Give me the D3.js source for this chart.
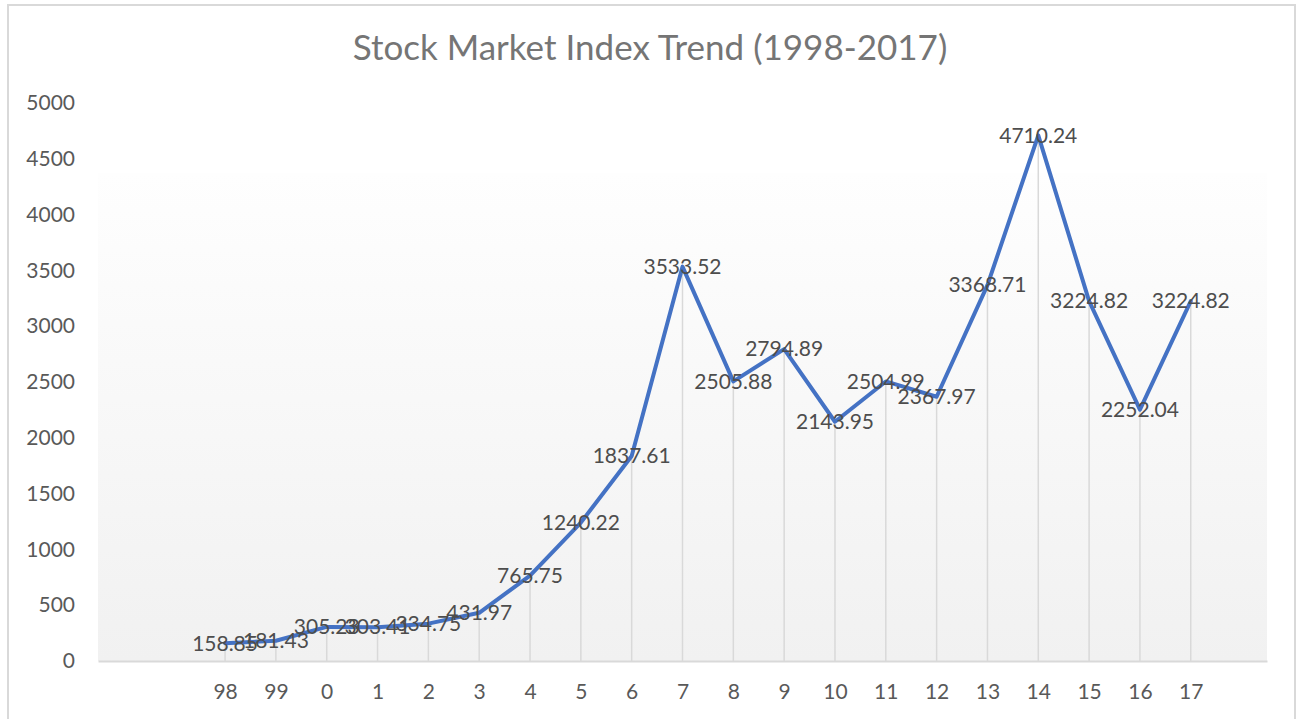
<!DOCTYPE html>
<html>
<head>
<meta charset="utf-8">
<script src="https://cdn.jsdelivr.net/npm/d3@7/dist/d3.min.js"></script>
<style>
    body { margin: 0; background: #fff; }
    text { font-family: Lato, "Open Sans", sans-serif; }
</style>
</head>
<body>
<svg id="chart"></svg>
<script>
var chartTitle = 'Stock Market Index Trend (1998-2017)';
var years = ['98', '99', '0', '1', '2', '3', '4', '5', '6', '7',
    '8', '9', '10', '11', '12', '13', '14', '15', '16', '17'];
var indexValues = [158.85, 181.43, 305.23, 303.41, 334.75, 431.97, 765.75,
    1240.22, 1837.61, 3533.52, 2505.88, 2794.89, 2143.95, 2504.99, 2367.97,
    3368.71, 4710.24, 3224.82, 2252.04, 3224.82];
var yTicks = [0, 500, 1000, 1500, 2000, 2500, 3000, 3500, 4000, 4500, 5000];

function StockChart() {
    var svg, xScale, yScale;

    var dim = {
        width: 1301,
        height: 719,
        margins: { top: 103, right: 34, bottom: 58, left: 98 }
    };

    this.init = function() {
        initSvg();
        initScales();
        drawFrame();
        drawAxes();
        drawDropLines();
        drawLine();
        drawLabels();
        drawTitle();
    };

    function initSvg() {
        svg = d3.select('#chart')
            .attr('width', dim.width)
            .attr('height', dim.height);
    }

    function initScales() {
        // two empty slots before the first year, one after the last
        xScale = d3.scaleLinear()
            .domain([-2.5, years.length + 0.5])
            .range([dim.margins.left, dim.width - dim.margins.right]);
        yScale = d3.scaleLinear()
            .domain([0, 5000])
            .range([dim.height - dim.margins.bottom, dim.margins.top]);
    }

    function drawFrame() {
        svg.append('rect')
            .attr('x', 8).attr('y', 5)
            .attr('width', 1287).attr('height', 730)
            .attr('fill', '#fff')
            .attr('stroke', '#d9d9d9')
            .attr('stroke-width', 2);

        var grad = svg.append('defs').append('linearGradient')
            .attr('id', 'plotFill')
            .attr('x1', 0).attr('y1', 0).attr('x2', 0).attr('y2', 1);
        grad.append('stop').attr('offset', '0%').attr('stop-color', '#fefefe');
        grad.append('stop').attr('offset', '100%').attr('stop-color', '#f1f1f1');

        svg.append('rect')
            .attr('x', xScale.range()[0])
            .attr('y', 173)
            .attr('width', xScale.range()[1] - xScale.range()[0])
            .attr('height', yScale(0) - 173)
            .attr('fill', 'url(#plotFill)');
    }

    function drawAxes() {
        var xAxis = d3.axisBottom(xScale)
            .tickValues(d3.range(years.length))
            .tickFormat(function(i) { return years[i]; })
            .tickSize(0)
            .tickPadding(23);
        var gx = svg.append('g')
            .attr('transform', 'translate(0,' + yScale(0) + ')')
            .call(xAxis);
        gx.select('.domain').attr('stroke', '#d9d9d9').attr('stroke-width', 2);
        gx.selectAll('text')
            .attr('fill', '#595959')
            .style('font-size', '21px');

        var yAxis = d3.axisLeft(yScale)
            .tickValues(yTicks)
            .tickFormat(d3.format('d'))
            .tickSize(0)
            .tickPadding(23);
        var gy = svg.append('g')
            .attr('transform', 'translate(' + dim.margins.left + ',0)')
            .call(yAxis);
        gy.select('.domain').remove();
        gy.selectAll('text')
            .attr('fill', '#595959')
            .style('font-size', '21px');
    }

    function drawDropLines() {
        svg.append('g')
            .selectAll('line')
            .data(indexValues)
            .enter().append('line')
            .attr('x1', function(d, i) { return xScale(i); })
            .attr('x2', function(d, i) { return xScale(i); })
            .attr('y1', function(d) { return yScale(d); })
            .attr('y2', yScale(0))
            .attr('stroke', '#d9d9d9')
            .attr('stroke-width', 1.5);
    }

    function drawLine() {
        var line = d3.line()
            .x(function(d, i) { return xScale(i); })
            .y(function(d) { return yScale(d); });
        svg.append('path')
            .attr('d', line(indexValues))
            .attr('fill', 'none')
            .attr('stroke', '#4472c4')
            .attr('stroke-width', 4)
            .attr('stroke-linejoin', 'round')
            .attr('stroke-linecap', 'round');
    }

    function drawLabels() {
        svg.append('g')
            .selectAll('text')
            .data(indexValues)
            .enter().append('text')
            .attr('x', function(d, i) { return xScale(i); })
            .attr('y', function(d) { return yScale(d); })
            .attr('dy', '0.35em')
            .attr('text-anchor', 'middle')
            .attr('fill', '#4d4d4d')
            .style('font-size', '21px')
            .text(function(d) { return d.toFixed(2); });
    }

    function drawTitle() {
        svg.append('text')
            .attr('x', 650)
            .attr('y', 48)
            .attr('dy', '0.35em')
            .attr('text-anchor', 'middle')
            .attr('fill', '#757575')
            .style('font-size', '35px')
            .text(chartTitle);
    }
}

new StockChart().init();
</script>
</body>
</html>
